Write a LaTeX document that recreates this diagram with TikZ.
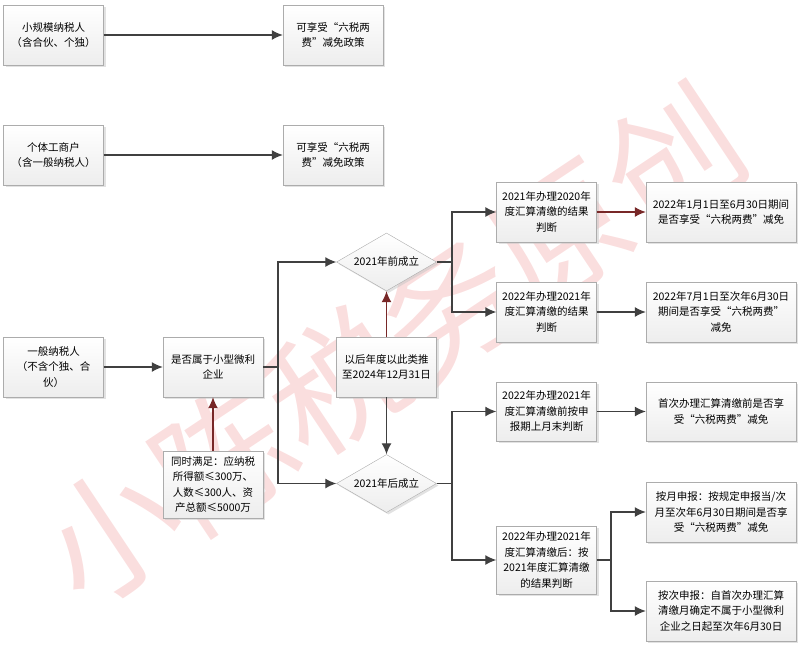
\documentclass[tikz,border=0pt]{standalone}
\usepackage{fontspec}
\setmainfont{Noto Sans CJK SC}
\usepackage{tikz}
\usetikzlibrary{arrows.meta}
\usetikzlibrary{shapes.geometric}
\usetikzlibrary{shadows}
\definecolor{lgray}{RGB}{64, 64, 64}
\definecolor{lred}{RGB}{120, 40, 40}
\definecolor{lpink}{RGB}{250, 222, 222}
\tikzset{box/.style = {rectangle, draw=gray!65, top color=white, bottom color=gray!14,
                       drop shadow={shadow xshift=2pt, shadow yshift=-2pt, fill=gray!45},
                       minimum width=100, minimum height=60, inner sep=1pt, align=center,
                       font=\fontsize{10.5}{15.5}\selectfont},
         wbox/.style = {box, minimum width=150},
         dec/.style = {diamond, draw=gray!65, top color=white, bottom color=gray!14,
                       drop shadow={shadow xshift=2pt, shadow yshift=-2pt, fill=gray!45},
                       minimum width=100, minimum height=58, inner sep=0pt, aspect=1.7,
                       font=\fontsize{10.5}{15.5}\selectfont},
         arr/.style = {draw=lgray, line width=1.3pt, -{Latex[length=11pt, width=10pt]}},
         rarr/.style = {arr, draw=lred}}

\begin{document}
\begin{tikzpicture}[x=1pt, y=-1pt]
      \useasboundingbox (0, 0) rectangle (800, 645);

      \node [rotate=33.7, text=lpink, font=\fontsize{135}{135}\selectfont] (mark) at (392, 345) {小陈税务原创};

      \node [box] (small) at (53.5, 35) {小规模纳税人\\（含合伙、个独）};
      \node [box] (res1) at (333, 35) {可享受“六税两\\费”减免政策};
      \node [box] (indiv) at (53.5, 155) {个体工商户\\（含一般纳税人）};
      \node [box] (res2) at (333, 155) {可享受“六税两\\费”减免政策};

      \node [box] (general) at (53.5, 367) {一般纳税人\\（不含个独、合\\伙）};
      \node [box] (profit) at (213, 367) {是否属于小型微利\\企业};
      \node [box, minimum height=67] (cond) at (213, 484.5) {同时满足：应纳税\\所得额≤300万、\\人数≤300人、资\\产总额≤5000万};

      \node [dec] (before) at (386.5, 262) {2021年前成立};
      \node [dec] (after) at (386.5, 483.5) {2021年后成立};
      \node [box] (later) at (386.5, 367) {以后年度以此类推\\至2024年12月31日};

      \node [box] (judge1) at (546.5, 212) {2021年办理2020年\\度汇算清缴的结果\\判断};
      \node [box] (judge2) at (546.5, 312) {2022年办理2021年\\度汇算清缴的结果\\判断};
      \node [box, minimum height=59] (judge3) at (546.5, 411.5) {2022年办理2021年\\度汇算清缴前按申\\报期上月末判断};
      \node [box, minimum height=68] (judge4) at (546.5, 560) {2022年办理2021年\\度汇算清缴后：按\\2021年度汇算清缴\\的结果判断};

      \node [wbox] (out1) at (721, 212) {2022年1月1日至6月30日期间\\是否享受“六税两费”减免};
      \node [wbox] (out2) at (721, 312) {2022年7月1日至次年6月30日\\期间是否享受“六税两费”\\减免};
      \node [wbox, minimum height=59] (out3) at (721, 411.5) {首次办理汇算清缴前是否享\\受“六税两费”减免};
      \node [wbox] (out4) at (721, 512) {按月申报：按规定申报当/次\\月至次年6月30日期间是否享\\受“六税两费”减免};
      \node [wbox] (out5) at (721, 611) {按次申报：自首次办理汇算\\清缴月确定不属于小型微利\\企业之日起至次年6月30日};

      \coordinate (split1) at (278, 367);
      \coordinate (split2) at (452, 262);
      \coordinate (split3) at (452, 483.5);
      \coordinate (split4) at (611, 560);

      \draw [arr] (small) -- (res1);
      \draw [arr] (indiv) -- (res2);
      \draw [arr] (general) -- (profit);
      \draw [rarr] (cond) -- (profit);

      \draw [arr] (profit) -- (split1) |- (before);
      \draw [arr] (split1) |- (after);
      \draw [rarr] (later) -- (before);
      \draw [arr] (later) -- (after);

      \draw [arr] (before) -- (split2) |- (judge1);
      \draw [arr] (split2) |- (judge2);
      \draw [arr] (after) -- (split3) |- (judge3);
      \draw [arr] (split3) |- (judge4);

      \draw [rarr] (judge1) -- (out1);
      \draw [arr] (judge2) -- (out2);
      \draw [arr] (judge3) -- (out3);
      \draw [arr] (judge4) -- (split4) |- (out4);
      \draw [arr] (split4) |- (out5);
\end{tikzpicture}
\end{document}
